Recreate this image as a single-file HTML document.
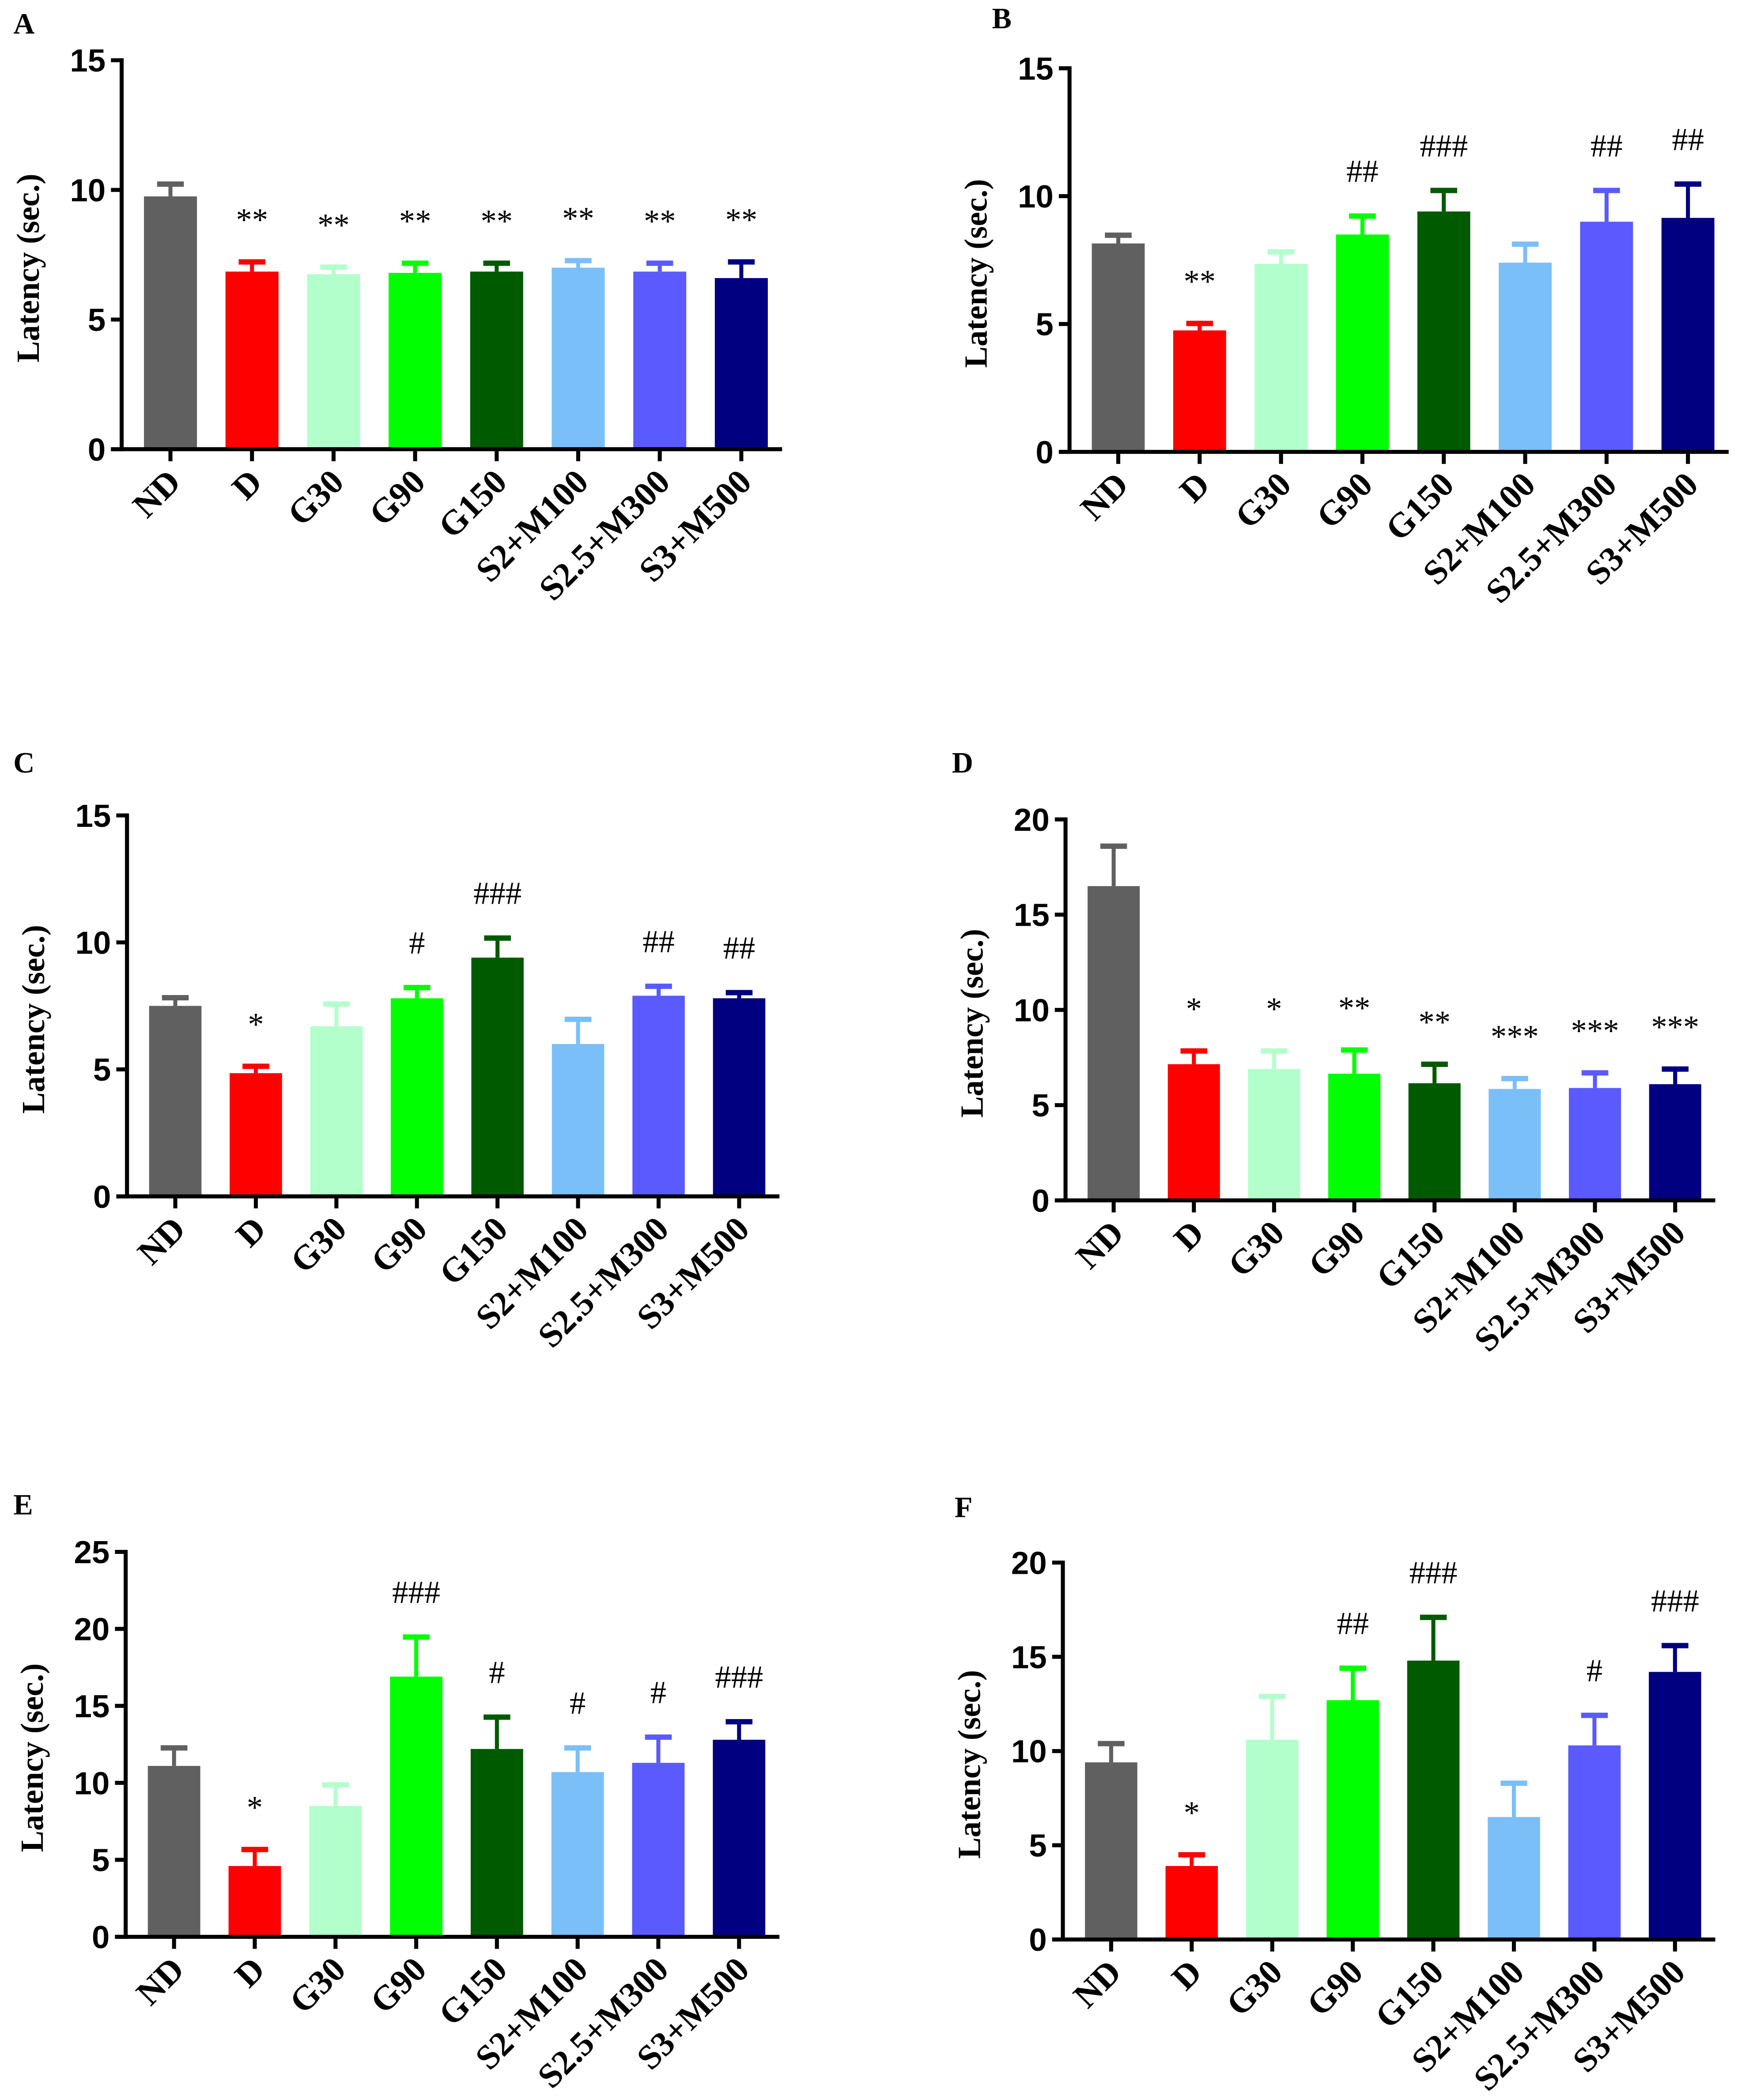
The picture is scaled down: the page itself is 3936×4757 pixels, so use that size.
<!DOCTYPE html>
<html><head><meta charset="utf-8"><style>
html,body{margin:0;padding:0;background:#fff;}
svg{display:block;}
.tk{font-family:"Liberation Sans",sans-serif;font-weight:bold;font-size:24px;}
.yl{font-family:"Liberation Serif",serif;font-weight:bold;font-size:24px;}
.cat{font-family:"Liberation Serif",serif;font-weight:bold;font-size:26px;}
.pl{font-family:"Liberation Serif",serif;font-weight:bold;font-size:22px;}
.an{font-family:"Liberation Serif",serif;font-size:24px;}
</style></head><body>
<svg id="fig" width="3936" height="4757" viewBox="0 0 1300 1571" xmlns="http://www.w3.org/2000/svg"></svg>
<script>
const categories = ["ND","D","G30","G90","G150","S2+M100","S2.5+M300","S3+M500"];
const colors = ["#606060","#ff0000","#b3ffcc","#00ff00","#005a00","#7bbff8","#5a5aff","#000080"];
const meansA = [9.75,6.85,6.75,6.8,6.85,7.0,6.85,6.6];
const errA = [10.3,7.3,7.1,7.25,7.25,7.35,7.25,7.3];
const annA = ["","**","**","**","**","**","**","**"];
const meansB = [8.15,4.75,7.35,8.5,9.4,7.4,9.0,9.15];
const errB = [8.55,5.1,7.9,9.3,10.3,8.2,10.3,10.55];
const annB = ["","**","","##","###","","##","##"];
const meansC = [7.5,4.85,6.7,7.8,9.4,6.0,7.9,7.8];
const errC = [7.9,5.2,7.65,8.3,10.25,7.05,8.35,8.1];
const annC = ["","*","","#","###","","##","##"];
const meansD = [16.5,7.15,6.9,6.65,6.15,5.85,5.9,6.1];
const errD = [18.7,7.95,7.95,8.0,7.25,6.5,6.8,7.0];
const annD = ["","*","*","**","**","***","***","***"];
const meansE = [11.1,4.6,8.5,16.9,12.2,10.7,11.3,12.8];
const errE = [12.4,5.8,10.0,19.6,14.4,12.4,13.1,14.1];
const annE = ["","*","","###","#","#","#","###"];
const meansF = [9.4,3.9,10.6,12.7,14.8,6.5,10.3,14.2];
const errF = [10.5,4.6,13.0,14.5,17.2,8.4,12.0,15.7];
const annF = ["","*","","##","###","","#","###"];
const ticks15 = [0,5,10,15];
const ticks20 = [0,5,10,15,20];
const ticks25 = [0,5,10,15,20,25];

const panels = [
 {id:"a",letter:"A",lx:10,ly:25,x0:91,x1:585,yTop:45,yBot:336,max:15,ticks:ticks15,m:meansA,e:errA,a:annA},
 {id:"b",letter:"B",lx:742,ly:21,x0:800,x1:1293,yTop:51,yBot:338,max:15,ticks:ticks15,m:meansB,e:errB,a:annB},
 {id:"c",letter:"C",lx:10,ly:578,x0:95,x1:583,yTop:610,yBot:895,max:15,ticks:ticks15,m:meansC,e:errC,a:annC},
 {id:"d",letter:"D",lx:712,ly:578,x0:797,x1:1283,yTop:613,yBot:898,max:20,ticks:ticks20,m:meansD,e:errD,a:annD},
 {id:"e",letter:"E",lx:10,ly:1133,x0:94,x1:583,yTop:1161,yBot:1449,max:25,ticks:ticks25,m:meansE,e:errE,a:annE},
 {id:"f",letter:"F",lx:714,ly:1135,x0:795,x1:1283,yTop:1169,yBot:1451,max:20,ticks:ticks20,m:meansF,e:errF,a:annF}
];
const NS="http://www.w3.org/2000/svg";
const svg=document.getElementById("fig");
function mk(tag,attrs,parent){const el=document.createElementNS(NS,tag);for(const k in attrs)el.setAttribute(k,attrs[k]);parent.appendChild(el);return el;}
panels.forEach(p=>{
  const g=mk("g",{},svg);
  
  
  const y=v=>p.yBot-(v/p.max)*(p.yBot-p.yTop);
  const n=categories.length;
  const step=(p.x1-p.x0-6)/n;
  const cx=i=>p.x0+6+step*(i+0.5);
  const bw=step*0.65;
  const lt=mk("text",{x:p.lx,y:p.ly,class:"pl"},g);lt.textContent=p.letter;
  
  
  for(let i=0;i<n;i++){
    const c=colors[i];
    const r=mk("rect",{x:cx(i)-bw/2,y:y(p.m[i]),width:bw,height:p.yBot-y(p.m[i]),fill:c},g);
    
    
    const eb=mk("line",{x1:cx(i),x2:cx(i),y1:y(p.m[i]),y2:y(p.e[i]),stroke:c,"stroke-width":3},g);
    
    
    mk("line",{x1:cx(i)-10,x2:cx(i)+10,y1:y(p.e[i])+1.5,y2:y(p.e[i])+1.5,stroke:c,"stroke-width":4},g);
    if(p.a[i]){
      const isStar=p.a[i].indexOf("*")>=0;
      const t=mk("text",{x:cx(i),y:y(p.e[i])-(isStar?22:24),class:"an","text-anchor":"middle"},g);
      t.textContent=p.a[i];
      
      
    }
    const tl=mk("text",{class:"cat","text-anchor":"end",transform:`translate(${cx(i)+9},${p.yBot+26}) rotate(-45)`},g);
    tl.textContent=categories[i];
    
    
    mk("line",{x1:cx(i),x2:cx(i),y1:p.yBot,y2:p.yBot+9,stroke:"#000","stroke-width":3},g);
  }
  const ya=mk("line",{x1:p.x0,x2:p.x0,y1:p.yTop-1.5,y2:p.yBot+1.5,stroke:"#000","stroke-width":3},g);
  
  
  const xa=mk("line",{x1:p.x0-8,x2:p.x1,y1:p.yBot,y2:p.yBot,stroke:"#000","stroke-width":3},g);
  
  
  p.ticks.forEach(v=>{
    mk("line",{x1:p.x0-8,x2:p.x0,y1:y(v),y2:y(v),stroke:"#000","stroke-width":3},g);
    const t=mk("text",{x:p.x0-12,y:y(v)+8.5,class:"tk","text-anchor":"end"},g);
    t.textContent=v;
    
    
  });
  const yt=mk("text",{class:"yl","text-anchor":"middle",transform:`translate(${p.x0-62},${(p.yTop+p.yBot)/2+10}) rotate(-90)`},g);
  yt.textContent="Latency (sec.)";
  
  
});
</script>
</body></html>
